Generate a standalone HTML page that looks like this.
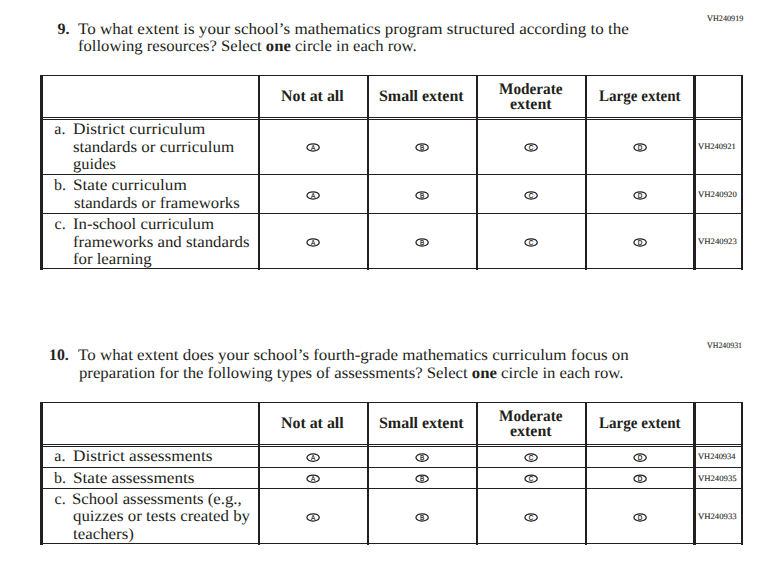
<!DOCTYPE html>
<html><head><meta charset="utf-8"><title>Survey questions</title>
<style>
html,body{margin:0;padding:0;background:#fff;}
body{width:768px;height:579px;position:relative;overflow:hidden;color:#231f20;font-family:"Liberation Serif",serif;text-rendering:geometricPrecision;}
.t{position:absolute;white-space:nowrap;transform-origin:0 0;}
.r{font-size:16px;line-height:16px;}
.s{font-size:8.3px;line-height:8.3px;-webkit-text-stroke:0.1px #231f20;}
.l{position:absolute;background:#231f20;}
b{font-weight:bold;}
svg{position:absolute;left:0;top:0;}
</style></head><body>

<div class="t r" style="left:57.50px;top:22px;font-weight:bold;">9.</div>
<div class="t r" style="left:78.20px;top:22px;transform:scaleX(1.0647);">To what extent is your school’s mathematics program structured according to the</div>
<div class="t r" style="left:78.00px;top:39px;transform:scaleX(1.0389);">following resources? Select <b>one</b> circle in each row.</div>
<div class="t s" style="left:706.80px;top:15px;transform:scaleX(0.9857);">VH240919</div>
<div class="t r" style="left:49.11px;top:348px;font-weight:bold;transform:scaleX(0.9895);">10.</div>
<div class="t r" style="left:78.20px;top:348px;transform:scaleX(1.0598);">To what extent does your school’s fourth-grade mathematics curriculum focus on</div>
<div class="t r" style="left:78.90px;top:366px;transform:scaleX(1.0450);">preparation for the following types of assessments? Select <b>one</b> circle in each row.</div>
<div class="t s" style="left:706.80px;top:342px;transform:scaleX(0.9503);">VH240931</div>
<div class="t r" style="left:281.20px;top:89px;font-weight:bold;transform:scaleX(0.9928);">Not at all</div>
<div class="t r" style="left:379.40px;top:89px;font-weight:bold;transform:scaleX(0.9971);">Small extent</div>
<div class="t r" style="left:499.40px;top:82px;font-weight:bold;transform:scaleX(0.9544);">Moderate</div>
<div class="t r" style="left:509.70px;top:97px;font-weight:bold;transform:scaleX(0.9946);">extent</div>
<div class="t r" style="left:598.90px;top:89px;font-weight:bold;transform:scaleX(0.9415);">Large extent</div>
<div class="t r" style="left:281.20px;top:416px;font-weight:bold;transform:scaleX(0.9928);">Not at all</div>
<div class="t r" style="left:379.40px;top:416px;font-weight:bold;transform:scaleX(0.9971);">Small extent</div>
<div class="t r" style="left:499.40px;top:409px;font-weight:bold;transform:scaleX(0.9544);">Moderate</div>
<div class="t r" style="left:509.70px;top:424px;font-weight:bold;transform:scaleX(0.9946);">extent</div>
<div class="t r" style="left:598.90px;top:416px;font-weight:bold;transform:scaleX(0.9415);">Large extent</div>
<div class="t r" style="left:54.30px;top:122px;">a.</div>
<div class="t r" style="left:72.80px;top:122px;transform:scaleX(1.0828);">District curriculum</div>
<div class="t r" style="left:72.80px;top:140px;transform:scaleX(1.0603);">standards or curriculum</div>
<div class="t r" style="left:72.80px;top:157px;transform:scaleX(1.0278);">guides</div>
<div class="t r" style="left:54.10px;top:178px;">b.</div>
<div class="t r" style="left:73.13px;top:178px;transform:scaleX(1.0715);">State curriculum</div>
<div class="t r" style="left:73.90px;top:196px;transform:scaleX(1.0478);">standards or frameworks</div>
<div class="t r" style="left:54.60px;top:217px;">c.</div>
<div class="t r" style="left:73.30px;top:217px;transform:scaleX(1.0468);">In-school curriculum</div>
<div class="t r" style="left:72.80px;top:235px;transform:scaleX(1.0506);">frameworks and standards</div>
<div class="t r" style="left:72.80px;top:252px;transform:scaleX(1.0469);">for learning</div>
<div class="t s" style="left:698.40px;top:143px;transform:scaleX(1.0238);">VH240921</div>
<div class="t s" style="left:698.40px;top:191px;transform:scaleX(1.0510);">VH240920</div>
<div class="t s" style="left:698.40px;top:238px;transform:scaleX(1.0510);">VH240923</div>
<div class="t r" style="left:54.30px;top:449px;">a.</div>
<div class="t r" style="left:72.80px;top:449px;transform:scaleX(1.0783);">District assessments</div>
<div class="t r" style="left:54.10px;top:471px;">b.</div>
<div class="t r" style="left:73.13px;top:471px;transform:scaleX(1.0714);">State assessments</div>
<div class="t r" style="left:54.60px;top:492px;">c.</div>
<div class="t r" style="left:72.15px;top:492px;transform:scaleX(1.0462);">School assessments (e.g.,</div>
<div class="t r" style="left:72.80px;top:509px;transform:scaleX(1.0540);">quizzes or tests created by</div>
<div class="t r" style="left:72.80px;top:527px;transform:scaleX(1.0539);">teachers)</div>
<div class="t s" style="left:698.40px;top:453px;transform:scaleX(1.0179);">VH240934</div>
<div class="t s" style="left:698.40px;top:475px;transform:scaleX(1.0456);">VH240935</div>
<div class="t s" style="left:698.40px;top:513px;transform:scaleX(1.0456);">VH240933</div>
<div class="l" style="left:40px;top:75px;width:703px;height:1px"></div>
<div class="l" style="left:40px;top:117px;width:703px;height:1px"></div>
<div class="l" style="left:40px;top:119px;width:703px;height:1px"></div>
<div class="l" style="left:40px;top:174px;width:703px;height:1px"></div>
<div class="l" style="left:40px;top:213px;width:703px;height:1px"></div>
<div class="l" style="left:40px;top:268px;width:703px;height:1px"></div>
<div class="l" style="left:40px;top:75px;width:3px;height:195px"></div>
<div class="l" style="left:258px;top:75px;width:2px;height:195px"></div>
<div class="l" style="left:367px;top:75px;width:2px;height:195px"></div>
<div class="l" style="left:476px;top:75px;width:2px;height:195px"></div>
<div class="l" style="left:585px;top:75px;width:2px;height:195px"></div>
<div class="l" style="left:693px;top:75px;width:3px;height:195px"></div>
<div class="l" style="left:741px;top:75px;width:2px;height:195px"></div>
<div class="l" style="left:40px;top:402px;width:703px;height:1px"></div>
<div class="l" style="left:40px;top:444px;width:703px;height:1px"></div>
<div class="l" style="left:40px;top:446px;width:703px;height:1px"></div>
<div class="l" style="left:40px;top:467px;width:703px;height:1px"></div>
<div class="l" style="left:40px;top:488px;width:703px;height:1px"></div>
<div class="l" style="left:40px;top:543px;width:703px;height:1px"></div>
<div class="l" style="left:40px;top:402px;width:3px;height:143px"></div>
<div class="l" style="left:258px;top:402px;width:2px;height:143px"></div>
<div class="l" style="left:367px;top:402px;width:2px;height:143px"></div>
<div class="l" style="left:476px;top:402px;width:2px;height:143px"></div>
<div class="l" style="left:585px;top:402px;width:2px;height:143px"></div>
<div class="l" style="left:693px;top:402px;width:3px;height:143px"></div>
<div class="l" style="left:741px;top:402px;width:2px;height:143px"></div>
<svg width="768" height="579" viewBox="0 0 768 579">
<ellipse cx="313.1" cy="147.4" rx="6.15" ry="3.65" fill="none" stroke="#231f20" stroke-width="1.25"/>
<text transform="translate(313.10,150.00) scale(0.9,1)" font-family="Liberation Sans" font-weight="normal" font-size="7.0" text-anchor="middle" fill="#231f20" stroke="#231f20" stroke-width="0.25">A</text>
<ellipse cx="422.1" cy="147.4" rx="6.15" ry="3.65" fill="none" stroke="#231f20" stroke-width="1.25"/>
<text transform="translate(422.10,150.00) scale(0.9,1)" font-family="Liberation Sans" font-weight="normal" font-size="7.0" text-anchor="middle" fill="#231f20" stroke="#231f20" stroke-width="0.25">B</text>
<ellipse cx="531.1" cy="147.4" rx="6.15" ry="3.65" fill="none" stroke="#231f20" stroke-width="1.25"/>
<text transform="translate(531.10,150.00) scale(0.9,1)" font-family="Liberation Sans" font-weight="normal" font-size="7.0" text-anchor="middle" fill="#231f20" stroke="#231f20" stroke-width="0.25">C</text>
<ellipse cx="640.1" cy="147.4" rx="6.15" ry="3.65" fill="none" stroke="#231f20" stroke-width="1.25"/>
<text transform="translate(640.10,150.00) scale(0.9,1)" font-family="Liberation Sans" font-weight="normal" font-size="7.0" text-anchor="middle" fill="#231f20" stroke="#231f20" stroke-width="0.25">D</text>
<ellipse cx="313.1" cy="195.4" rx="6.15" ry="3.65" fill="none" stroke="#231f20" stroke-width="1.25"/>
<text transform="translate(313.10,198.00) scale(0.9,1)" font-family="Liberation Sans" font-weight="normal" font-size="7.0" text-anchor="middle" fill="#231f20" stroke="#231f20" stroke-width="0.25">A</text>
<ellipse cx="422.1" cy="195.4" rx="6.15" ry="3.65" fill="none" stroke="#231f20" stroke-width="1.25"/>
<text transform="translate(422.10,198.00) scale(0.9,1)" font-family="Liberation Sans" font-weight="normal" font-size="7.0" text-anchor="middle" fill="#231f20" stroke="#231f20" stroke-width="0.25">B</text>
<ellipse cx="531.1" cy="195.4" rx="6.15" ry="3.65" fill="none" stroke="#231f20" stroke-width="1.25"/>
<text transform="translate(531.10,198.00) scale(0.9,1)" font-family="Liberation Sans" font-weight="normal" font-size="7.0" text-anchor="middle" fill="#231f20" stroke="#231f20" stroke-width="0.25">C</text>
<ellipse cx="640.1" cy="195.4" rx="6.15" ry="3.65" fill="none" stroke="#231f20" stroke-width="1.25"/>
<text transform="translate(640.10,198.00) scale(0.9,1)" font-family="Liberation Sans" font-weight="normal" font-size="7.0" text-anchor="middle" fill="#231f20" stroke="#231f20" stroke-width="0.25">D</text>
<ellipse cx="313.1" cy="242.4" rx="6.15" ry="3.65" fill="none" stroke="#231f20" stroke-width="1.25"/>
<text transform="translate(313.10,245.00) scale(0.9,1)" font-family="Liberation Sans" font-weight="normal" font-size="7.0" text-anchor="middle" fill="#231f20" stroke="#231f20" stroke-width="0.25">A</text>
<ellipse cx="422.1" cy="242.4" rx="6.15" ry="3.65" fill="none" stroke="#231f20" stroke-width="1.25"/>
<text transform="translate(422.10,245.00) scale(0.9,1)" font-family="Liberation Sans" font-weight="normal" font-size="7.0" text-anchor="middle" fill="#231f20" stroke="#231f20" stroke-width="0.25">B</text>
<ellipse cx="531.1" cy="242.4" rx="6.15" ry="3.65" fill="none" stroke="#231f20" stroke-width="1.25"/>
<text transform="translate(531.10,245.00) scale(0.9,1)" font-family="Liberation Sans" font-weight="normal" font-size="7.0" text-anchor="middle" fill="#231f20" stroke="#231f20" stroke-width="0.25">C</text>
<ellipse cx="640.1" cy="242.4" rx="6.15" ry="3.65" fill="none" stroke="#231f20" stroke-width="1.25"/>
<text transform="translate(640.10,245.00) scale(0.9,1)" font-family="Liberation Sans" font-weight="normal" font-size="7.0" text-anchor="middle" fill="#231f20" stroke="#231f20" stroke-width="0.25">D</text>
<ellipse cx="313.1" cy="457.6" rx="6.15" ry="3.65" fill="none" stroke="#231f20" stroke-width="1.25"/>
<text transform="translate(313.10,460.20) scale(0.9,1)" font-family="Liberation Sans" font-weight="normal" font-size="7.0" text-anchor="middle" fill="#231f20" stroke="#231f20" stroke-width="0.25">A</text>
<ellipse cx="422.1" cy="457.6" rx="6.15" ry="3.65" fill="none" stroke="#231f20" stroke-width="1.25"/>
<text transform="translate(422.10,460.20) scale(0.9,1)" font-family="Liberation Sans" font-weight="normal" font-size="7.0" text-anchor="middle" fill="#231f20" stroke="#231f20" stroke-width="0.25">B</text>
<ellipse cx="531.1" cy="457.6" rx="6.15" ry="3.65" fill="none" stroke="#231f20" stroke-width="1.25"/>
<text transform="translate(531.10,460.20) scale(0.9,1)" font-family="Liberation Sans" font-weight="normal" font-size="7.0" text-anchor="middle" fill="#231f20" stroke="#231f20" stroke-width="0.25">C</text>
<ellipse cx="640.1" cy="457.6" rx="6.15" ry="3.65" fill="none" stroke="#231f20" stroke-width="1.25"/>
<text transform="translate(640.10,460.20) scale(0.9,1)" font-family="Liberation Sans" font-weight="normal" font-size="7.0" text-anchor="middle" fill="#231f20" stroke="#231f20" stroke-width="0.25">D</text>
<ellipse cx="313.1" cy="478.7" rx="6.15" ry="3.65" fill="none" stroke="#231f20" stroke-width="1.25"/>
<text transform="translate(313.10,481.30) scale(0.9,1)" font-family="Liberation Sans" font-weight="normal" font-size="7.0" text-anchor="middle" fill="#231f20" stroke="#231f20" stroke-width="0.25">A</text>
<ellipse cx="422.1" cy="478.7" rx="6.15" ry="3.65" fill="none" stroke="#231f20" stroke-width="1.25"/>
<text transform="translate(422.10,481.30) scale(0.9,1)" font-family="Liberation Sans" font-weight="normal" font-size="7.0" text-anchor="middle" fill="#231f20" stroke="#231f20" stroke-width="0.25">B</text>
<ellipse cx="531.1" cy="478.7" rx="6.15" ry="3.65" fill="none" stroke="#231f20" stroke-width="1.25"/>
<text transform="translate(531.10,481.30) scale(0.9,1)" font-family="Liberation Sans" font-weight="normal" font-size="7.0" text-anchor="middle" fill="#231f20" stroke="#231f20" stroke-width="0.25">C</text>
<ellipse cx="640.1" cy="478.7" rx="6.15" ry="3.65" fill="none" stroke="#231f20" stroke-width="1.25"/>
<text transform="translate(640.10,481.30) scale(0.9,1)" font-family="Liberation Sans" font-weight="normal" font-size="7.0" text-anchor="middle" fill="#231f20" stroke="#231f20" stroke-width="0.25">D</text>
<ellipse cx="313.1" cy="517.4" rx="6.15" ry="3.65" fill="none" stroke="#231f20" stroke-width="1.25"/>
<text transform="translate(313.10,520.00) scale(0.9,1)" font-family="Liberation Sans" font-weight="normal" font-size="7.0" text-anchor="middle" fill="#231f20" stroke="#231f20" stroke-width="0.25">A</text>
<ellipse cx="422.1" cy="517.4" rx="6.15" ry="3.65" fill="none" stroke="#231f20" stroke-width="1.25"/>
<text transform="translate(422.10,520.00) scale(0.9,1)" font-family="Liberation Sans" font-weight="normal" font-size="7.0" text-anchor="middle" fill="#231f20" stroke="#231f20" stroke-width="0.25">B</text>
<ellipse cx="531.1" cy="517.4" rx="6.15" ry="3.65" fill="none" stroke="#231f20" stroke-width="1.25"/>
<text transform="translate(531.10,520.00) scale(0.9,1)" font-family="Liberation Sans" font-weight="normal" font-size="7.0" text-anchor="middle" fill="#231f20" stroke="#231f20" stroke-width="0.25">C</text>
<ellipse cx="640.1" cy="517.4" rx="6.15" ry="3.65" fill="none" stroke="#231f20" stroke-width="1.25"/>
<text transform="translate(640.10,520.00) scale(0.9,1)" font-family="Liberation Sans" font-weight="normal" font-size="7.0" text-anchor="middle" fill="#231f20" stroke="#231f20" stroke-width="0.25">D</text>
</svg>
</body></html>
